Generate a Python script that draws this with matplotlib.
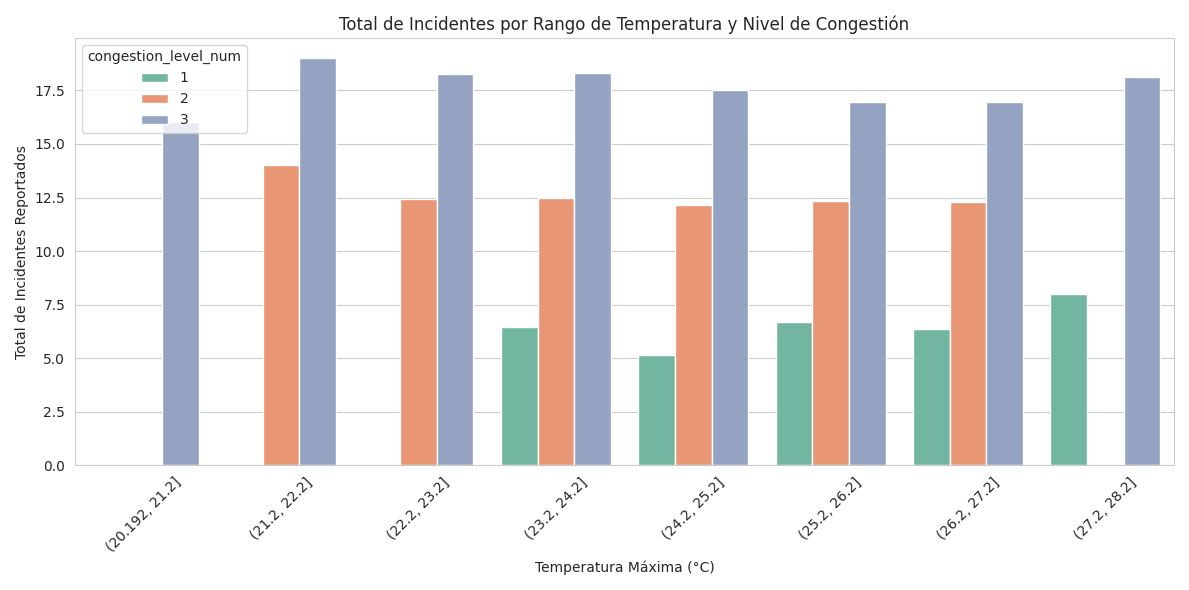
import matplotlib
matplotlib.use("Agg")
import matplotlib.pyplot as plt
import seaborn as sns
import pandas as pd
import numpy as np

bins = ["(20.192, 21.2]", "(21.2, 22.2]", "(22.2, 23.2]", "(23.2, 24.2]",
        "(24.2, 25.2]", "(25.2, 26.2]", "(26.2, 27.2]", "(27.2, 28.2]"]
level1 = [np.nan, np.nan, np.nan, 6.45, 5.17, 6.7, 6.38, 8.0]
level2 = [np.nan, 14.0, 12.45, 12.5, 12.17, 12.36, 12.3, np.nan]
level3 = [16.0, 19.0, 18.25, 18.3, 17.5, 16.97, 16.97, 18.1]

rows = []
for i, b in enumerate(bins):
    for lvl, vals in ((1, level1), (2, level2), (3, level3)):
        rows.append({"temp_bin": b, "congestion_level_num": lvl, "incidents": vals[i]})
df = pd.DataFrame(rows)

sns.set_style("whitegrid")
fig, ax = plt.subplots(figsize=(11.89, 5.9), dpi=100)
sns.barplot(data=df, x="temp_bin", y="incidents", hue="congestion_level_num",
            palette="Set2", order=bins, ax=ax)
ax.set_title("Total de Incidentes por Rango de Temperatura y Nivel de Congestión")
ax.set_xlabel("Temperatura Máxima (°C)")
ax.set_ylabel("Total de Incidentes Reportados")
plt.setp(ax.get_xticklabels(), rotation=45)
ax.legend(title="congestion_level_num", loc="upper left")
plt.tight_layout()
plt.savefig("out.png")
